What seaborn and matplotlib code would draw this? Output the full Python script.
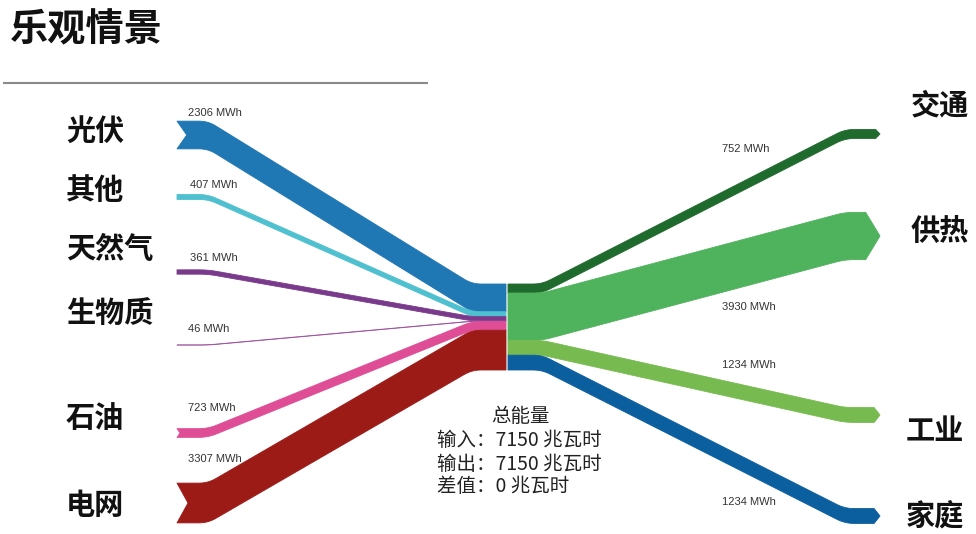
import numpy as np
import matplotlib
matplotlib.use("Agg")
import matplotlib.pyplot as plt
from matplotlib.patches import Polygon
import seaborn as sns

# ---- data -------------------------------------------------------------
sources = ["光伏", "其他", "天然气", "生物质", "石油", "电网"]
source_mwh = [2306, 407, 361, 46, 723, 3307]
sinks = ["交通", "供热", "工业", "家庭"]
sink_mwh = [752, 3930, 1234, 1234]
unit_label = "MWh"
title = "乐观情景"

source_colors = ["#1f77b4", "#4fc0cf", "#7a3a8c", "#a0559e", "#de4d96", "#9c1b17"]
sink_colors = ["#1f6a2d", "#4fb25c", "#77bb50", "#0c5f9f"]

# ---- layout (pixel space) --------------------------------------------
W, H = 976, 534
px_per_mwh = 86.0 / 7150.0
hub_top = 284.0
src_center_y = [135, 197, 272, 345, 433, 503]      # vertical centres of source ends
snk_center_y = [134, 236, 415, 516]                 # vertical centres of sink ends
src_x = (177, 208, 472, 506)                        # tail, bend, hub arrival, hub edge
snk_x = (508, 542, 845, 880)                        # hub edge, bend, arrival, tip
src_val_pos = [(188, 113), (190, 185), (190, 258), (188, 329), (188, 408), (188, 459)]
snk_val_pos = [(722, 149), (722, 307), (722, 365), (722, 502)]
src_name_pos = [(66, 131), (66, 190), (66, 249), (66, 313), (66, 418), (66, 505)]
snk_name_pos = [(911, 105), (911, 231), (906, 431), (906, 516)]

sns.set_theme(style="white")
plt.rcParams["font.family"] = ["Noto Sans CJK SC", "DejaVu Sans"]

fig = plt.figure(figsize=(W / 100, H / 100), dpi=100)
ax = fig.add_axes([0, 0, 1, 1])
ax.set_xlim(0, W)
ax.set_ylim(H, 0)
ax.axis("off")


def rounded(points, r=9, n=8):
    """Polyline through points with small quadratic fillets at inner corners."""
    pts = [np.array(p, float) for p in points]
    out = [pts[0]]
    for i in range(1, len(pts) - 1):
        p0, p1, p2 = pts[i - 1], pts[i], pts[i + 1]
        d0 = p1 - p0
        d1 = p2 - p1
        l0, l1 = np.linalg.norm(d0), np.linalg.norm(d1)
        rr = min(r, l0 / 2, l1 / 2)
        a = p1 - d0 / l0 * rr
        b = p1 + d1 / l1 * rr
        for t in np.linspace(0, 1, n):
            out.append((1 - t) ** 2 * a + 2 * (1 - t) * t * p1 + t ** 2 * b)
    out.append(pts[-1])
    return np.array(out)


def band(x, y_start, y_end, thick, color, notch_left=0.0, tip_right=0.0, lw=0.6):
    x0, x1, x2, x3 = x
    top = rounded([(x0, y_start), (x1, y_start), (x2, y_end), (x3, y_end)])
    bot = top.copy()
    bot[:, 1] += thick
    verts = list(top)
    if tip_right > 0:
        verts[-1] = np.array([x3 - tip_right, y_end])
        verts.append(np.array([x3, y_end + thick / 2]))
        bot[-1, 0] = x3 - tip_right
    verts += list(bot[::-1])
    if notch_left > 0:
        verts.append(np.array([x0 + notch_left, y_start + thick / 2]))
    ax.add_patch(Polygon(np.array(verts), closed=True, facecolor=color,
                         edgecolor=color, linewidth=lw, joinstyle="round"))


# source flows: left tails into the hub, stacked in order
y = hub_top
for name, v, c, cy in zip(sources, source_mwh, source_colors, src_center_y):
    t = v * px_per_mwh
    notch = min(0.35 * t, 11) if t > 6 else 0.0
    band(src_x, cy - t / 2, y, t, c, notch_left=notch, lw=0.6 if t > 2 else 0.4)
    y += t

# sink flows: out of the hub to the right with arrow tips
y = hub_top
for name, v, c, cy in zip(sinks, sink_mwh, sink_colors, snk_center_y):
    t = v * px_per_mwh
    band(snk_x, y, cy - t / 2, t, c, tip_right=0.26 * t + 2)
    y += t

# value labels
for v, (lx, ly) in zip(source_mwh, src_val_pos):
    ax.text(lx, ly, f"{v} {unit_label}", fontsize=8, color="#333333",
            ha="left", va="center", family=["Liberation Sans", "DejaVu Sans"])
for v, (lx, ly) in zip(sink_mwh, snk_val_pos):
    ax.text(lx, ly, f"{v} {unit_label}", fontsize=8, color="#333333",
            ha="left", va="center", family=["Liberation Sans", "DejaVu Sans"])

# node names
for name, (lx, ly) in zip(sources, src_name_pos):
    ax.text(lx, ly, name, fontsize=21, fontweight="bold", color="#111111",
            ha="left", va="center")
for name, (lx, ly) in zip(sinks, snk_name_pos):
    ax.text(lx, ly, name, fontsize=21, fontweight="bold", color="#111111",
            ha="left", va="center")

# totals block under the hub
total_in = sum(source_mwh)
total_out = sum(sink_mwh)
ax.text(520, 416, "总能量", fontsize=14, color="#222222", ha="center", va="center")
ax.text(437, 440, f"输入：{total_in} 兆瓦时", fontsize=14, color="#222222",
        ha="left", va="center")
ax.text(437, 464, f"输出：{total_out} 兆瓦时", fontsize=14, color="#222222",
        ha="left", va="center")
ax.text(437, 487, f"差值：{total_in - total_out} 兆瓦时", fontsize=14,
        color="#222222", ha="left", va="center")

# title and rule
ax.text(10, 30, title, fontsize=27.5, fontweight="bold", color="#111111",
        ha="left", va="center")
ax.plot([3, 428], [83, 83], color="#8a8a8a", linewidth=1.5,
        solid_capstyle="butt")

fig.savefig("out.png", dpi=100)
